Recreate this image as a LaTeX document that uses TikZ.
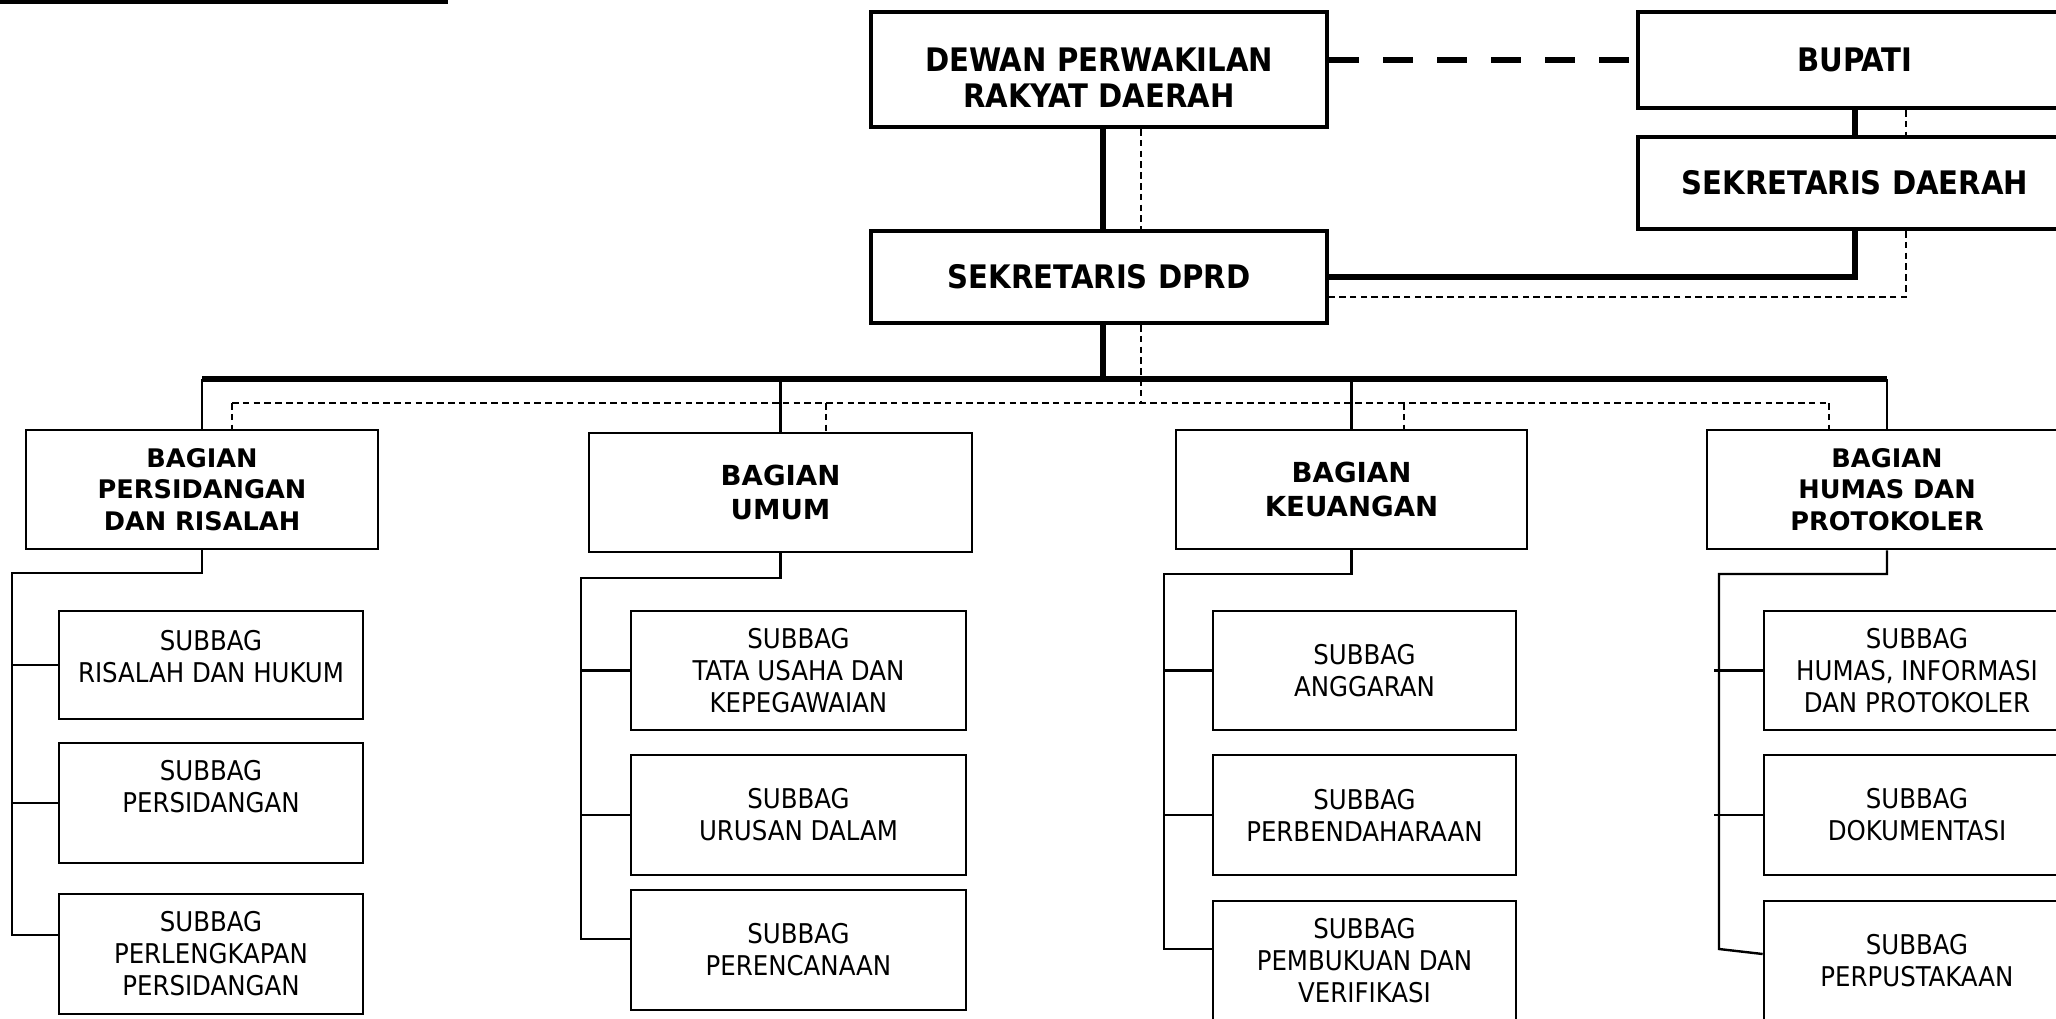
\documentclass[tikz,border=0pt]{standalone}
\usepackage{fontspec}
\setmainfont{DejaVu Sans}
\newfontfamily\condfont{DejaVu Sans Condensed}[BoldFont={DejaVu Sans Condensed Bold}]
\tikzset{ % kotak jabatan
    headbox/.style={draw, line width=2pt, inner sep=0pt, align=center,
        font=\condfont\bfseries\fontsize{16.2}{18.4}\selectfont},
    bagbox/.style={draw, line width=1.35pt, inner sep=0pt, align=center, minimum height=59.5pt,
        font=\bfseries\fontsize{12.8}{15.75}\selectfont},
    bagbig/.style={bagbox, font=\bfseries\fontsize{13.8}{16.75}\selectfont},
    subbox/.style={draw, line width=1.35pt, inner sep=0pt, align=center, minimum height=60pt,
        font=\condfont\fontsize{13.6}{16}\selectfont},
}
\tikzset{ % garis
    strong/.style={line width=3pt},
    link/.style={line width=1.2pt},
    dotline/.style={line width=1pt, dash pattern=on 3.3pt off 2.1pt},
    bigdash/.style={line width=3.2pt, dash pattern=on 15pt off 12pt},
}

\begin{document}
\begin{tikzpicture}[x=0.5pt,y=-0.5pt]
		\useasboundingbox (0,0) rectangle (2056,1018);
		\clip (0,0) rectangle (2056,1018);
		\draw[line width=2pt] (0,2) -- (448,2);
		% pimpinan
		\node[headbox, minimum width=228pt, minimum height=57.5pt] (dprd) at (1099,69.5) {\rule{0pt}{20pt}DEWAN PERWAKILAN\\RAKYAT DAERAH};
		\node[headbox, minimum width=217pt, minimum height=48pt] (bupati) at (1855,60) {BUPATI};
		\node[headbox, minimum width=217pt, minimum height=46pt] (sekda) at (1855,183) {SEKRETARIS DAERAH};
		\node[headbox, minimum width=228pt, minimum height=46pt] (sekdprd) at (1099,277) {SEKRETARIS DPRD};
		% bagian
		\node[bagbox, minimum width=176pt] (bag1) at (202,489.5) {BAGIAN\\PERSIDANGAN\\DAN RISALAH};
		\node[bagbig, minimum width=191.5pt] (bag2) at (780.5,492.5) {BAGIAN\\UMUM};
		\node[bagbig, minimum width=175.5pt] (bag3) at (1351.5,489.5) {BAGIAN\\KEUANGAN};
		\node[bagbox, minimum width=180pt] (bag4) at (1887,489.5) {BAGIAN\\HUMAS DAN\\PROTOKOLER};
		% subbagian
		\node[subbox, minimum width=152pt, minimum height=54pt, text depth=9pt] (s11) at (211,665) {SUBBAG\\RISALAH DAN HUKUM};
		\node[subbox, minimum width=152pt, text depth=16.5pt] (s12) at (211,803) {SUBBAG\\PERSIDANGAN};
		\node[subbox, minimum width=152pt] (s13) at (211,954) {SUBBAG\\PERLENGKAPAN\\PERSIDANGAN};
		\node[subbox, minimum width=167.5pt, minimum height=59.5pt] (s21) at (798.5,670.5) {SUBBAG\\TATA USAHA DAN\\KEPEGAWAIAN};
		\node[subbox, minimum width=167.5pt] (s22) at (798.5,815) {SUBBAG\\URUSAN DALAM};
		\node[subbox, minimum width=167.5pt] (s23) at (798.5,950) {SUBBAG\\PERENCANAAN};
		\node[subbox, minimum width=151.5pt, minimum height=59.5pt] (s31) at (1364.5,670.5) {SUBBAG\\ANGGARAN};
		\node[subbox, minimum width=151.5pt] (s32) at (1364.5,815) {SUBBAG\\PERBENDAHARAAN};
		\node[subbox, minimum width=151.5pt] (s33) at (1364.5,961) {SUBBAG\\PEMBUKUAN DAN\\VERIFIKASI};
		\node[subbox, minimum width=153pt, minimum height=59.5pt] (s41) at (1917,670.5) {SUBBAG\\HUMAS, INFORMASI\\DAN PROTOKOLER};
		\node[subbox, minimum width=153pt] (s42) at (1917,815) {SUBBAG\\DOKUMENTASI};
		\node[subbox, minimum width=153pt] (s43) at (1917,961) {SUBBAG\\PERPUSTAKAAN};
		% garis komando dan koordinasi
		\draw[bigdash] (bupati.west -| dprd.east) -- (bupati.west);
		\draw[strong] ([xshift=2pt]dprd.south) -- ([xshift=2pt]sekdprd.north);
		\draw[dotline] ([xshift=21pt]dprd.south) -- ([xshift=21pt]sekdprd.north);
		\draw[strong] (bupati.south) -- (sekda.north);
		\draw[dotline] ([xshift=25.5pt]bupati.south) -- ([xshift=25.5pt]sekda.north);
		\draw[strong] (sekda.south) |- (sekdprd.east);
		\draw[dotline] ([xshift=25.5pt]sekda.south) |- ([yshift=-10pt]sekdprd.east);
		\coordinate (bar) at (0,379);
		\coordinate (dl) at (0,403);
		\draw[strong] ([xshift=2pt]sekdprd.south) -- ++(0,56);
		\draw[strong] (bag1.north |- bar) -- (bag4.north |- bar);
		\draw[dotline] ([xshift=21pt]sekdprd.south) -- ([xshift=21pt]sekdprd.south |- dl);
		\draw[dotline] ([xshift=15pt]bag1.north |- dl) -- ([xshift=-29pt]bag4.north |- dl);
		\foreach \b/\s in {bag1/15,bag2/22.5,bag3/26,bag4/-29}{
			\draw[link] (\b.north |- bar) -- (\b.north);
			\draw[dotline] ([xshift=\s pt]\b.north |- dl) -- ([xshift=\s pt]\b.north);
		}
		\foreach \c/\kx/\ky/\sh in {1/12/573/9.5,2/581/578/5.5,3/1164/574/6}{
			\coordinate (k\c) at (\kx,\ky);
			\draw[link] (bag\c.south) |- (k\c) |- ([yshift=\sh pt]s\c3.west);
			\draw[link] (k\c |- s\c1.west) -- (s\c1.west);
			\draw[link] (k\c |- s\c2.west) -- (s\c2.west);
		}
		\coordinate (k4) at (1719,574);
		\draw[link] (bag4.south) |- (k4) -- ++(0,375) -- ([yshift=3.5pt]s43.west);
		\draw[link] ([xshift=-2.5pt]k4 |- s41.west) -- (s41.west);
		\draw[link] ([xshift=-2.5pt]k4 |- s42.west) -- (s42.west);
	\end{tikzpicture}
\end{document}
